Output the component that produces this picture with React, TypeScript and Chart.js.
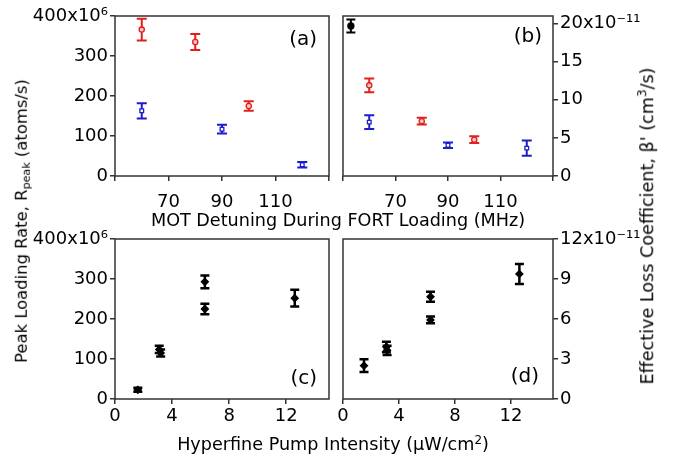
import React, { useEffect, useRef } from 'react';
import { Chart, registerables } from 'chart.js';

Chart.register(...registerables);

const W = 679;
const H = 462;
const FONT = "'DejaVu Sans', Verdana, sans-serif";

// ---- Panel (a): peak loading rate vs MOT detuning (atoms/s)
const aRedX = [60, 80, 100];
const aRedY = [366, 335, 175];
const aRedErr = [27, 20, 12];
const aBlueX = [60, 90, 120];
const aBlueY = [163, 117, 28];
const aBlueErr = [19, 11, 7];

// ---- Panel (b): loss coefficient vs MOT detuning (x10^-11 cm^3/s)
const bBlackX = [53];
const bBlackY = [19.7];
const bBlackErr = [0.85];
const bRedX = [60, 80, 100];
const bRedY = [11.9, 7.2, 4.77];
const bRedErr = [0.9, 0.45, 0.45];
const bBlueX = [60, 90, 120];
const bBlueY = [7.07, 4.04, 3.66];
const bBlueErr = [0.9, 0.37, 1.0];

// ---- Panel (c): peak loading rate vs hyperfine pump intensity
const cX = [1.6, 3.1, 3.2, 6.3, 6.3, 12.6];
const cY = [23, 124, 115, 293, 225, 252];
const cErr = [5, 9, 9, 16, 13, 21];

// ---- Panel (d): loss coefficient vs hyperfine pump intensity
const dX = [1.5, 3.1, 3.15, 6.25, 6.25, 12.6];
const dY = [2.5, 3.9, 3.65, 7.67, 5.93, 9.38];
const dErr = [0.48, 0.4, 0.35, 0.38, 0.25, 0.75];

// ---- tick labels
const detuningTickLabels = [70, 90, 110];
const intensityTickLabels = [0, 4, 8, 12];
const rateTopLabel = '400x10\u2076';
const lossTopLabelB = '20x10\u207B\u00B9\u00B9';
const lossTopLabelD = '12x10\u207B\u00B9\u00B9';

const RED = '#e0201c';
const BLUE = '#1c1ccc';
const BLACK = '#000000';

const pts = (xs: number[], ys: number[], es: number[]) =>
  xs.map((x, i) => ({ x, y: ys[i], err: es[i] }));

const errorBarPlugin = {
  id: 'errorBars',
  beforeDatasetsDraw(chart: any) {
    const { ctx } = chart;
    const xs = chart.scales.x;
    const ys = chart.scales.y;
    chart.data.datasets.forEach((ds: any) => {
      ctx.save();
      ctx.strokeStyle = ds.errColor;
      ctx.lineWidth = ds.errWidth;
      const cap = ds.capHalf;
      ds.data.forEach((p: any) => {
        const px = xs.getPixelForValue(p.x);
        const top = ys.getPixelForValue(p.y + p.err);
        const bot = ys.getPixelForValue(p.y - p.err);
        ctx.beginPath();
        ctx.moveTo(px, top);
        ctx.lineTo(px, bot);
        ctx.moveTo(px - cap, top);
        ctx.lineTo(px + cap, top);
        ctx.moveTo(px - cap, bot);
        ctx.lineTo(px + cap, bot);
        ctx.stroke();
      });
      ctx.restore();
    });
  },
};

const framePlugin = {
  id: 'frame',
  afterDraw(chart: any, _args: any, opts: any) {
    const { ctx, chartArea: a } = chart;
    ctx.save();
    ctx.strokeStyle = '#333';
    ctx.lineWidth = 1.5;
    ctx.strokeRect(a.left, a.top, a.right - a.left, a.bottom - a.top);
    ctx.fillStyle = '#000';
    ctx.font = `20px ${FONT}`;
    ctx.textAlign = 'right';
    ctx.textBaseline = 'middle';
    ctx.fillText(opts.label, a.right - opts.dx, opts.top ? a.top + opts.dy : a.bottom - opts.dy);
    ctx.restore();
  },
};

type Panel = {
  datasets: any[];
  xMin: number;
  xMax: number;
  xStep: number;
  xLabels: number[];
  xPad: number;
  yMin: number;
  yMax: number;
  yStep: number;
  yTopValue: number;
  yTopLabel: string;
  yPos: 'left' | 'right';
  padding: { left: number; right: number; top: number; bottom: number };
  label: string;
  labelDx: number;
  labelDy: number;
  labelTop: boolean;
};

const YW = 105;
const XH = 40;

function ds(data: any[], color: string, style: string, radius: number, fill: string, errWidth: number, capHalf: number) {
  return {
    data,
    showLine: false,
    pointStyle: style,
    pointRadius: radius,
    pointBorderWidth: 1.3,
    pointBorderColor: color,
    pointBackgroundColor: fill,
    errColor: color,
    errWidth,
    capHalf,
  };
}

const panels: Panel[] = [
  {
    datasets: [
      ds(pts(aRedX, aRedY, aRedErr), RED, 'circle', 2.6, '#f7c6c6', 2, 5),
      ds(pts(aBlueX, aBlueY, aBlueErr), BLUE, 'rect', 2.6, '#ffffff', 2, 5),
    ],
    xMin: 50, xMax: 130, xStep: 20, xLabels: detuningTickLabels, xPad: 11,
    yMin: 0, yMax: 400, yStep: 100, yTopValue: 400, yTopLabel: rateTopLabel,
    yPos: 'left',
    padding: { left: 115 - YW, right: W - 329, top: 16, bottom: H - 176 - XH },
    label: '(a)', labelDx: 12, labelDy: 24, labelTop: true,
  },
  {
    datasets: [
      ds(pts(bBlackX, bBlackY, bBlackErr), BLACK, 'circle', 3, BLACK, 2, 4.5),
      ds(pts(bRedX, bRedY, bRedErr), RED, 'circle', 2.6, '#f7c6c6', 2, 5),
      ds(pts(bBlueX, bBlueY, bBlueErr), BLUE, 'rect', 2.6, '#ffffff', 2, 5),
    ],
    xMin: 50, xMax: 130, xStep: 20, xLabels: detuningTickLabels, xPad: 11,
    yMin: 0, yMax: 21, yStep: 5, yTopValue: 20, yTopLabel: lossTopLabelB,
    yPos: 'right',
    padding: { left: 343, right: W - 553 - YW, top: 16, bottom: H - 176 - XH },
    label: '(b)', labelDx: 11, labelDy: 21, labelTop: true,
  },
  {
    datasets: [ds(pts(cX, cY, cErr), BLACK, 'rectRot', 3.5, BLACK, 2.5, 4.5)],
    xMin: 0, xMax: 15, xStep: 4, xLabels: intensityTickLabels, xPad: 2,
    yMin: 0, yMax: 400, yStep: 100, yTopValue: 400, yTopLabel: rateTopLabel,
    yPos: 'left',
    padding: { left: 115 - YW, right: W - 329, top: 239, bottom: H - 399 - XH },
    label: '(c)', labelDx: 12, labelDy: 20, labelTop: false,
  },
  {
    datasets: [ds(pts(dX, dY, dErr), BLACK, 'rectRot', 3.5, BLACK, 2.5, 4.5)],
    xMin: 0, xMax: 15, xStep: 4, xLabels: intensityTickLabels, xPad: 2,
    yMin: 0, yMax: 12, yStep: 3, yTopValue: 12, yTopLabel: lossTopLabelD,
    yPos: 'right',
    padding: { left: 343, right: W - 553 - YW, top: 239, bottom: H - 399 - XH },
    label: '(d)', labelDx: 14, labelDy: 22, labelTop: false,
  },
];

function makeConfig(p: Panel): any {
  const grid = {
    display: true,
    drawOnChartArea: false,
    drawTicks: true,
    tickLength: 5,
    color: '#333',
    lineWidth: 1.5,
  };
  return {
    type: 'scatter',
    data: { datasets: p.datasets },
    plugins: [errorBarPlugin, framePlugin],
    options: {
      responsive: false,
      animation: false,
      devicePixelRatio: 1,
      layout: { padding: p.padding },
      plugins: {
        legend: { display: false },
        tooltip: { enabled: false },
        frame: { label: p.label, dx: p.labelDx, dy: p.labelDy, top: p.labelTop },
      },
      scales: {
        x: {
          type: 'linear',
          position: 'bottom',
          min: p.xMin,
          max: p.xMax,
          grid,
          border: { display: false },
          ticks: {
            stepSize: p.xStep,
            includeBounds: false,
            autoSkip: false,
            maxRotation: 0,
            padding: p.xPad,
            color: '#000',
            font: { family: FONT, size: 18 },
            callback: (v: number) => (p.xLabels.includes(v) ? String(v) : ''),
          },
          afterFit: (s: any) => {
            s.height = XH;
            s.paddingLeft = 0;
            s.paddingRight = 0;
          },
        },
        y: {
          type: 'linear',
          position: p.yPos,
          min: p.yMin,
          max: p.yMax,
          grid,
          border: { display: false },
          ticks: {
            stepSize: p.yStep,
            includeBounds: false,
            autoSkip: false,
            padding: 2,
            color: '#000',
            font: { family: FONT, size: 18 },
            callback: (v: number) => (v === p.yTopValue ? p.yTopLabel : String(v)),
          },
          afterFit: (s: any) => {
            s.width = YW;
            s.paddingTop = 0;
            s.paddingBottom = 0;
          },
        },
      },
    },
  };
}

function PanelCanvas({ panel }: { panel: Panel }) {
  const ref = useRef<HTMLCanvasElement | null>(null);
  useEffect(() => {
    if (!ref.current) return;
    const chart = new Chart(ref.current, makeConfig(panel));
    return () => chart.destroy();
  }, [panel]);
  return (
    <canvas
      ref={ref}
      width={W}
      height={H}
      style={{ position: 'absolute', left: 0, top: 0, width: W, height: H }}
    />
  );
}

const titleStyle: React.CSSProperties = {
  position: 'absolute',
  fontFamily: FONT,
  fontSize: 17.6,
  lineHeight: 1,
  whiteSpace: 'nowrap',
  color: '#000',
};

const supStyle: React.CSSProperties = { fontSize: '0.68em', verticalAlign: '0.55em', lineHeight: 0 };
const subStyle: React.CSSProperties = { fontSize: '0.68em', verticalAlign: '-0.25em', lineHeight: 0 };

export default function App() {
  return (
    <div style={{ position: 'absolute', left: 0, top: 0, width: W, height: H, background: '#fff', overflow: 'hidden' }}>
      {panels.map((p, i) => (
        <PanelCanvas key={i} panel={p} />
      ))}
      <div style={{ ...titleStyle, left: 338, top: 221, transform: 'translate(-50%, -50%)' }}>
        MOT Detuning During FORT Loading (MHz)
      </div>
      <div style={{ ...titleStyle, left: 333, top: 445, transform: 'translate(-50%, -50%)' }}>
        Hyperfine Pump Intensity (μW/cm<span style={supStyle}>2</span>)
      </div>
      <div style={{ ...titleStyle, fontSize: 16.4, left: 22, top: 221, transform: 'translate(-50%, -50%) rotate(-90deg)' }}>
        Peak Loading Rate, R<span style={subStyle}>peak</span> (atoms/s)
      </div>
      <div style={{ ...titleStyle, left: 648, top: 226, transform: 'translate(-50%, -50%) rotate(-90deg)' }}>
        Effective Loss Coefficient, β' (cm<span style={supStyle}>3</span>/s)
      </div>
    </div>
  );
}
